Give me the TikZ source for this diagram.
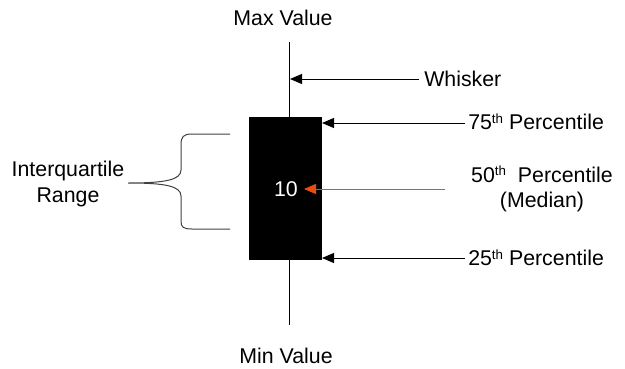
\documentclass[tikz,border=0pt]{standalone}
\usepackage{fontspec}
\setmainfont{Liberation Sans}
\usepackage{xcolor}
\usetikzlibrary{positioning,arrows.meta}

\definecolor{medianorange}{RGB}{232,78,14}
\newcommand{\ordth}{\raisebox{0.55ex}{\fontsize{10}{10}\selectfont th}}

\begin{document}
\begin{tikzpicture}[
  x=0.75pt, y=-0.75pt,
  txt/.style={font=\fontsize{16}{19}\selectfont, inner sep=0pt, align=center},
  pointer/.style={-{Triangle[length=9pt,width=7.5pt]}, line width=0.75pt, black},
  medpointer/.style={pointer, medianorange},
  iqrbox/.style={rectangle, draw=black, fill=black, inner sep=0pt,
    minimum width=54pt, minimum height=106.5pt}
]
\useasboundingbox (0,0) rectangle (625,368);

% Whisker and box
\node[txt] (maxv) at (283,18) {Max Value};
\node[txt] (minv) at (286,356) {Min Value};
\coordinate (wtop) at (289,42);
\coordinate (wbot) at (289,325);
\draw[line width=0.75pt] (wtop) -- (wbot);
\node[iqrbox] (box) at (285,188) {};
\node[txt, text=white] (val) at (286,189) {10};

% Labels on the right
\node[txt, anchor=west] (whisk) at (424,79) {Whisker};
\node[txt, anchor=west] (p75) at (468,122) {75\ordth{} Percentile};
\node[txt] (p50) at (542,189) {50\ordth\ \ Percentile\\(Median)};
\node[txt, anchor=west] (p25) at (468,258) {25\ordth{} Percentile};

\coordinate (whiskend) at (290,79);
\coordinate (p75end) at (322,123);
\coordinate (p50start) at (445,189);
\coordinate (p50end) at (304,189);
\coordinate (p25end) at (322,258);

\draw[pointer] (whisk.west) ++(-5,0) -- (whiskend);
\draw[pointer] (p75.west) ++(-3,1) -- (p75end);
\draw[medpointer] (p50start) -- (p50end);
\draw[pointer] (p25.west) ++(-3,0) -- (p25end);

% Brace
\node[txt] (iqr) at (68,184) {Interquartile\\Range};
\draw[line width=0.75pt, black!75]
  (230,134) -- (192,134) .. controls (183,134) and (181,137) .. (181,145)
  -- (181,170) .. controls (181,180) and (165,183) .. (128,183)
  .. controls (165,183) and (181,186) .. (181,196)
  -- (181,221) .. controls (181,227) and (183,229) .. (192,229) -- (230,229);
\end{tikzpicture}
\end{document}
